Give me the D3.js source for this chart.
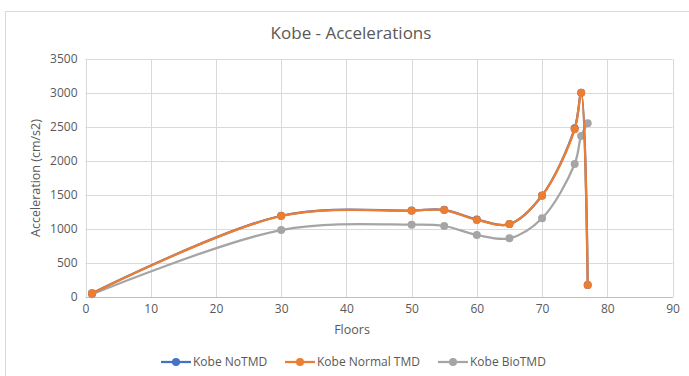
<!DOCTYPE html>
<html>
<head>
<meta charset="utf-8">
<script src="https://cdn.jsdelivr.net/npm/d3@7"></script>
<style>
  html, body { margin: 0; padding: 0; background: #fff; }
  svg { display: block; font-family: "Open Sans", "Noto Sans", sans-serif; }
</style>
</head>
<body>
<svg id="chart" width="689" height="376"></svg>
<script>
// Floor levels and peak accelerations (cm/s2) per configuration
const floors = [1, 30, 50, 55, 60, 65, 70, 75, 76, 77];
const noTMD = [54, 1195, 1272, 1282, 1140, 1072, 1492, 2480, 3004, 178];
const normalTMD = [54, 1191, 1269, 1279, 1134, 1072, 1490, 2466, 3004, 176];
const bioTMD = [40, 985, 1063, 1044, 912, 863, 1157, 1956, 2368, 2554];

const seriesNames = ["Kobe NoTMD", "Kobe Normal TMD", "Kobe BioTMD"];
const seriesColors = ["#4472C4", "#ED7D31", "#A5A5A5"];
const xTicks = [0, 10, 20, 30, 40, 50, 60, 70, 80, 90];
const yTicks = [0, 500, 1000, 1500, 2000, 2500, 3000, 3500];

const svg = d3.select("#chart");
const W = 689, H = 376;
const plot = { left: 85.5, right: 672.5, top: 59, bottom: 297 };

// chart frame
svg.append("rect")
  .attr("x", 5.5).attr("y", 11.5)
  .attr("width", W + 10).attr("height", H + 10)
  .attr("fill", "#fff").attr("stroke", "#d9d9d9").attr("stroke-width", 1);

const x = d3.scaleLinear().domain([0, 90]).range([plot.left, plot.right]);
const y = d3.scaleLinear().domain([0, 3500]).range([plot.bottom, plot.top]);

// gridlines
const grid = svg.append("g");
grid.selectAll(".hg").data(yTicks).enter().append("line")
  .attr("x1", plot.left).attr("x2", plot.right)
  .attr("y1", d => Math.round(y(d)) + 0.5).attr("y2", d => Math.round(y(d)) + 0.5)
  .attr("stroke", "#d9d9d9").attr("stroke-width", 1);
grid.selectAll(".vg").data(xTicks).enter().append("line")
  .attr("y1", plot.top).attr("y2", plot.bottom)
  .attr("x1", d => Math.round(x(d)) + 0.5).attr("x2", d => Math.round(x(d)) + 0.5)
  .attr("stroke", "#d9d9d9").attr("stroke-width", 1);

// axes
const xAxis = d3.axisBottom(x).tickValues(xTicks).tickFormat(d3.format("d")).tickSize(0).tickPadding(7);
const gx = svg.append("g").attr("transform", `translate(0,${plot.bottom})`).call(xAxis);
gx.select(".domain").attr("stroke", "#bfbfbf");
gx.selectAll("text").attr("fill", "#595959").style("font-size", "12px")
  .style("font-family", "'Open Sans', sans-serif");

const yAxis = d3.axisLeft(y).tickValues(yTicks).tickFormat(d3.format("d")).tickSize(0).tickPadding(8);
const gy = svg.append("g").attr("transform", `translate(${plot.left},0)`).call(yAxis);
gy.select(".domain").remove();
gy.selectAll("text").attr("fill", "#595959").style("font-size", "12px")
  .style("font-family", "'Open Sans', sans-serif");

// titles
svg.append("text").attr("x", 351).attr("y", 39).attr("text-anchor", "middle")
  .attr("fill", "#595959").style("font-size", "17px").text("Kobe - Accelerations");
svg.append("text").attr("x", 352).attr("y", 334).attr("text-anchor", "middle")
  .attr("fill", "#595959").style("font-size", "12.5px").text("Floors");
svg.append("text").attr("transform", "translate(40,178) rotate(-90)").attr("text-anchor", "middle")
  .attr("fill", "#595959").style("font-size", "12.5px").text("Acceleration (cm/s2)");

// series: smoothed lines with circular markers
const series = [noTMD, normalTMD, bioTMD].map((vals, i) => ({
  name: seriesNames[i], color: seriesColors[i],
  pts: floors.map((f, j) => ({ f, v: vals[j] }))
}));
const line = d3.line().x(d => x(d.f)).y(d => y(d.v)).curve(d3.curveCatmullRom.alpha(0.5));

// draw BioTMD first, then NoTMD, then Normal TMD on top
[2, 0, 1].forEach(i => {
  const s = series[i];
  const g = svg.append("g");
  g.append("path").datum(s.pts).attr("d", line)
    .attr("fill", "none").attr("stroke", s.color).attr("stroke-width", 2.25)
    .attr("stroke-linejoin", "round").attr("stroke-linecap", "round");
  g.selectAll("circle").data(s.pts).enter().append("circle")
    .attr("cx", d => x(d.f)).attr("cy", d => y(d.v)).attr("r", 4)
    .attr("fill", s.color);
});

// legend
const legendX = [161, 285, 438];
const lg = svg.append("g").attr("transform", "translate(0,362)");
series.forEach((s, i) => {
  const gi = lg.append("g").attr("transform", `translate(${legendX[i]},0)`);
  gi.append("line").attr("x1", 0).attr("x2", 30).attr("y1", 0).attr("y2", 0)
    .attr("stroke", s.color).attr("stroke-width", 2.25);
  gi.append("circle").attr("cx", 15).attr("cy", 0).attr("r", 4).attr("fill", s.color);
  gi.append("text").attr("x", 32).attr("y", 4).attr("fill", "#595959")
    .style("font-size", "12px").text(s.name);
});
</script>
</body>
</html>
